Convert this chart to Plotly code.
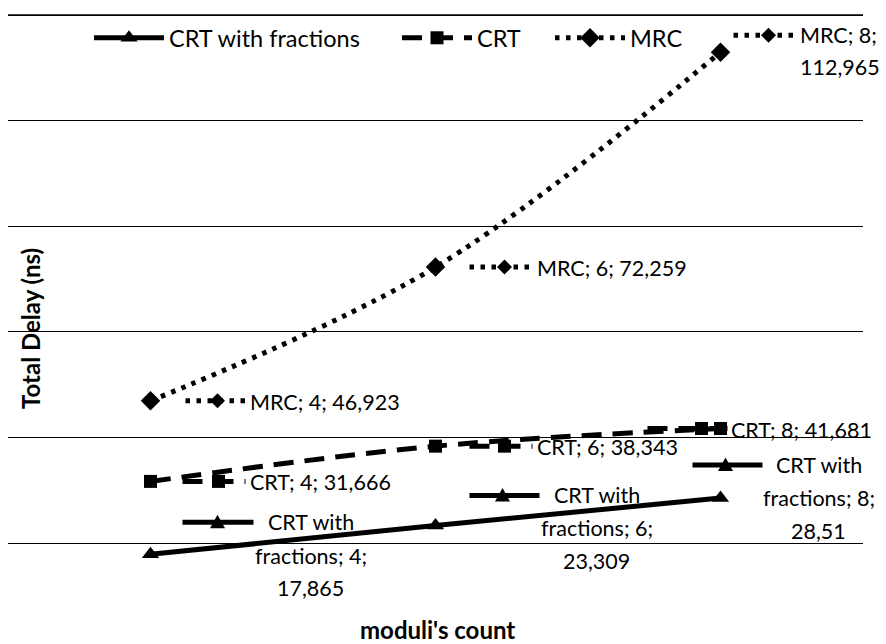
import plotly.graph_objects as go

# ---------------- data ----------------
categories = [4, 6, 8]
series_names = ["CRT with fractions", "CRT", "MRC"]
crt_fractions = [17.865, 23.309, 28.51]
crt = [31.666, 38.343, 41.681]
mrc = [46.923, 72.259, 112.965]
y_gridlines = [20, 40, 60, 80, 100, 120]

# ---------------- geometry / style ----------------
W, H = 886, 644
ML, MR, MT, MB = 8, 23, 5, 44
PW, PH = W - ML - MR, H - MT - MB
FONT = "Lato"
LABEL_SIZE = 21.5
LEGEND_SIZE = 23.5
TITLE_SIZE = 24
PX_PER_UNIT = 5.28
Y_TOP = 120 + (15 - MT) / PX_PER_UNIT
Y_BOT = Y_TOP - PH / PX_PER_UNIT
GRID_W = 1.4

styles = {
    "CRT with fractions": dict(dash="solid", width=5, symbol="triangle-up", msize=15),
    "CRT": dict(dash="20px,11px", width=5, symbol="square", msize=13),
    "MRC": dict(dash="4.5px,6.5px", width=5, symbol="diamond", msize=15),
}
legend_x_px = {"CRT with fractions": 89, "CRT": 397, "MRC": 550}
legend_ids = {"CRT with fractions": "legend", "CRT": "legend2", "MRC": "legend3"}

def px2paper(px, py):
    return (px - ML) / PW, (H - MB - py) / PH

values = {"CRT with fractions": crt_fractions, "CRT": crt, "MRC": mrc}

fig = go.Figure()
for name in series_names:
    st = styles[name]
    fig.add_trace(go.Scatter(
        x=categories, y=values[name], name=name, mode="lines+markers",
        legend=legend_ids[name],
        line=dict(color="black", width=st["width"], dash=st["dash"], shape="spline", smoothing=1),
        marker=dict(symbol=st["symbol"], size=st["msize"], color="black"),
    ))

# data-label layout: key line (x0,x1), key marker x, key dy; text anchor x, align, line dys, word groups
label_layout = {
    "MRC": [
        dict(k=(35, 97), m=67, kdy=0, tx=97, al="left", dys=[1], groups=None),
        dict(k=(34, 97), m=69, kdy=0, tx=99, al="left", dys=[1], groups=None),
        dict(k=(13, 75), m=48, kdy=-17, tx=77, al="left", dys=[-17, 15], groups=[[0, 1], [2]]),
    ],
    "CRT": [
        dict(k=(32, 95), m=68, kdy=0, tx=97, al="left", dys=[1], groups=None),
        dict(k=(34, 97), m=69, kdy=0, tx=99, al="left", dys=[1], groups=None),
        dict(k=(-73, 7), m=-19, kdy=0, tx=8, al="left", dys=[1], groups=None),
    ],
    "CRT with fractions": [
        dict(k=(32, 103), m=67, kdy=-32, tx=160, al="center", dys=[-32, 2, 34], groups=[[0, 1], [2, 3], [4]]),
        dict(k=(34, 104), m=67, kdy=-30, tx=161, al="center", dys=[-31, 2, 35], groups=[[0, 1], [2, 3], [4]]),
        dict(k=(-28, 42), m=5, kdy=-33, tx=98, al="center", dys=[-33, 0, 33], groups=[[0, 1], [2, 3], [4]]),
    ],
}

def marker_path(symbol, s, mx, my):
    h = s / 2
    if symbol == "triangle-up":
        pts = [(-h, -h * 0.8), (h, -h * 0.8), (0, h)]
    elif symbol == "square":
        pts = [(-h, -h), (h, -h), (h, h), (-h, h)]
    else:
        pts = [(-h, 0), (0, h), (h, 0), (0, -h)]
    return "M" + " L".join(f"{px + mx},{py + my}" for px, py in pts) + " Z"

shapes, annotations = [], []

# top gridline (Plotly skips it near the upper edge), drawn like the others
shapes.append(dict(type="line", xref="paper", yref="y", x0=0, x1=1,
                   y0=max(y_gridlines), y1=max(y_gridlines),
                   line=dict(color="black", width=GRID_W), layer="below"))

for name in series_names:
    st = styles[name]
    for i, (c, v) in enumerate(zip(categories, values[name])):
        L = label_layout[name][i]
        full = f"{name}; {c}; {str(v).replace('.', ',')}"
        if L["groups"]:
            toks = full.split(" ")
            lines = [" ".join(toks[j] for j in g) for g in L["groups"]]
        else:
            lines = [full]
        shapes.append(dict(
            type="line", xref="x", yref="y", xsizemode="pixel", ysizemode="pixel",
            xanchor=c, yanchor=v, x0=L["k"][0], x1=L["k"][1], y0=-L["kdy"], y1=-L["kdy"],
            line=dict(color="black", width=st["width"], dash=st["dash"]), layer="above"))
        shapes.append(dict(
            type="path", xref="x", yref="y", xsizemode="pixel", ysizemode="pixel",
            xanchor=c, yanchor=v, path=marker_path(st["symbol"], st["msize"], L["m"], -L["kdy"]),
            fillcolor="black", line=dict(width=0), layer="above"))
        for ln, dy in zip(lines, L["dys"]):
            annotations.append(dict(
                x=c, y=v, xref="x", yref="y", text=ln, showarrow=False,
                xanchor=L["al"], yanchor="middle", xshift=L["tx"], yshift=-dy,
                font=dict(family=FONT, size=LABEL_SIZE, color="black")))

# axis titles
ax, ay = px2paper(30, 329)
annotations.append(dict(x=ax, y=ay, xref="paper", yref="paper", text="<b>Total Delay (ns)</b>",
                        textangle=-90, showarrow=False, xanchor="center", yanchor="middle",
                        font=dict(family=FONT, size=TITLE_SIZE, color="black")))
bx, by = px2paper(437, 629)
annotations.append(dict(x=bx, y=by, xref="paper", yref="paper", text="<b>moduli's count</b>",
                        showarrow=False, xanchor="center", yanchor="middle",
                        font=dict(family=FONT, size=TITLE_SIZE, color="black")))

legend_common = dict(orientation="h", yanchor="middle", xanchor="left",
                     font=dict(family=FONT, size=LEGEND_SIZE, color="black"),
                     bgcolor="rgba(255,255,255,0)", itemwidth=70)
legends = {}
for name in series_names:
    lx, ly = px2paper(legend_x_px[name], 38)
    legends[legend_ids[name]] = dict(legend_common, x=lx, y=ly)

fig.update_layout(
    width=W, height=H,
    margin=dict(l=ML, r=MR, t=MT, b=MB, pad=0),
    paper_bgcolor="white", plot_bgcolor="white",
    font=dict(family=FONT, size=LABEL_SIZE, color="black"),
    showlegend=True,
    xaxis=dict(range=[3, 9], showticklabels=False, showgrid=False, zeroline=False,
               showline=False, ticks=""),
    yaxis=dict(range=[Y_BOT, Y_TOP], tickmode="array", tickvals=y_gridlines,
               showticklabels=False, showgrid=True,
               gridcolor="black", gridwidth=GRID_W, zeroline=False, showline=False, ticks=""),
    shapes=shapes, annotations=annotations,
    **legends,
)

fig.write_html("out.html")
